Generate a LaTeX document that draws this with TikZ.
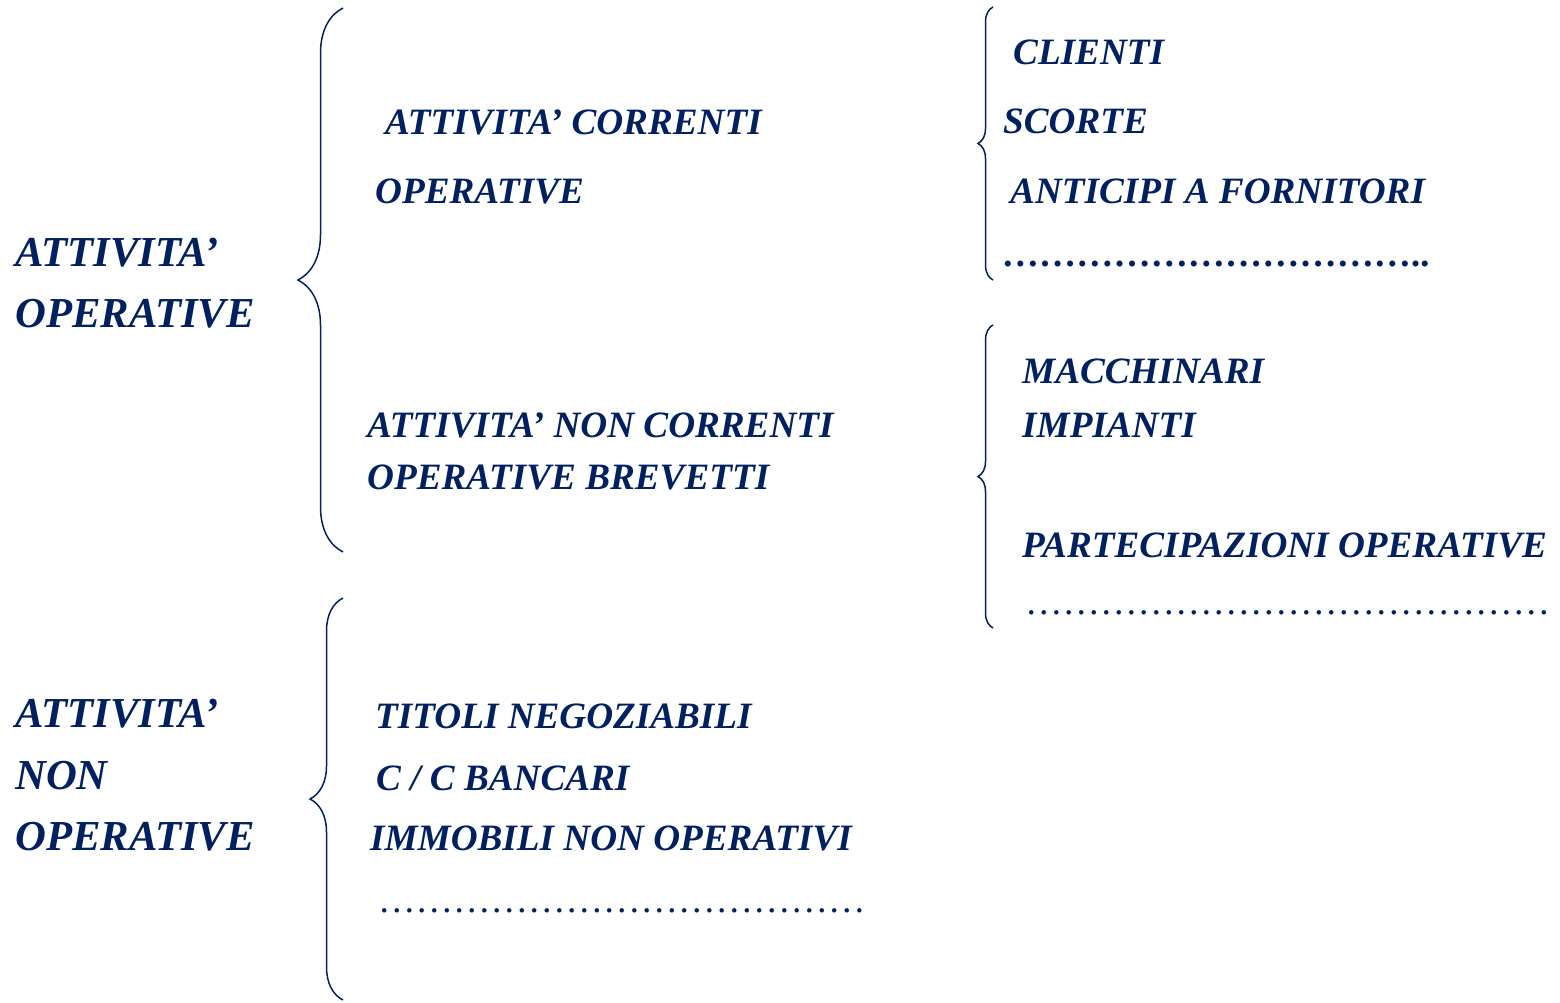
\documentclass[tikz,border=0pt]{standalone}
\usepackage{fontspec}
\setmainfont{Liberation Serif}
\usepackage{tikz}
\usepackage{xcolor}
\usetikzlibrary{decorations.pathreplacing}

\definecolor{blu}{RGB}{0,32,96}
\tikzset{
    bigtxt/.style={font=\fontsize{42.7}{48}\selectfont\bfseries\itshape, text=blu, anchor=base west, inner sep=0pt},
    midtxt/.style={font=\fontsize{37.2}{42}\selectfont\bfseries\itshape, text=blu, anchor=base west, inner sep=0pt},
    dotstxt/.style={font=\fontsize{37.5}{42}\selectfont, text=blu, anchor=base west, inner sep=0pt},
    accolade/.style={draw=blu, line width=1.5pt, decorate, decoration={brace, amplitude=#1}}
}

\begin{document}
\begin{tikzpicture}[x=1pt, y=-1pt]
    \useasboundingbox (0,0) rectangle (1560,1003);

    % Left column
    \node[bigtxt] (opA) at (15,266) {ATTIVITA’};
    \node[bigtxt] (opB) at (15,327) {OPERATIVE};
    \node[bigtxt] (nopA) at (15,727) {ATTIVITA’};
    \node[bigtxt] (nopB) at (15,789) {NON};
    \node[bigtxt] (nopC) at (15,850) {OPERATIVE};

    % Big braces
    \draw[accolade=45pt] (343,552) -- (343,8);
    \draw[accolade=33pt] (343,1000) -- (343,598);

    % Middle column
    \node[midtxt] (corrA) at (385,135) {ATTIVITA’ CORRENTI};
    \node[midtxt] (corrB) at (375,204) {OPERATIVE};
    \node[midtxt] (ncorrA) at (367,437) {ATTIVITA’ NON CORRENTI};
    \node[midtxt] (ncorrB) at (367,489) {OPERATIVE BREVETTI};
    \node[midtxt] (titoli) at (375,728) {TITOLI NEGOZIABILI};
    \node[midtxt] (banche) at (376,790) {C / C BANCARI};
    \node[midtxt] (immob) at (370,850) {IMMOBILI NON OPERATIVI};
    \node[dotstxt] (nopDots) at (378,912) {…………………………………};

    % Small braces
    \draw[accolade=15pt] (993,280) -- (993,7);
    \draw[accolade=15pt] (993,628) -- (993,325);

    % Right column
    \node[midtxt] (clienti) at (1013,65) {CLIENTI};
    \node[midtxt] (scorte) at (1003,134) {SCORTE};
    \node[midtxt] (anticipi) at (1010,204) {ANTICIPI A FORNITORI};
    \node[midtxt] (corrDots) at (1003,266) {……………………………..};
    \node[midtxt] (macch) at (1022,383) {MACCHINARI};
    \node[midtxt] (impianti) at (1022,437) {IMPIANTI};
    \node[midtxt] (partec) at (1022,557) {PARTECIPAZIONI OPERATIVE};
    \node[dotstxt] (ncorrDots) at (1025,614) {……………………………………};
\end{tikzpicture}
\end{document}
